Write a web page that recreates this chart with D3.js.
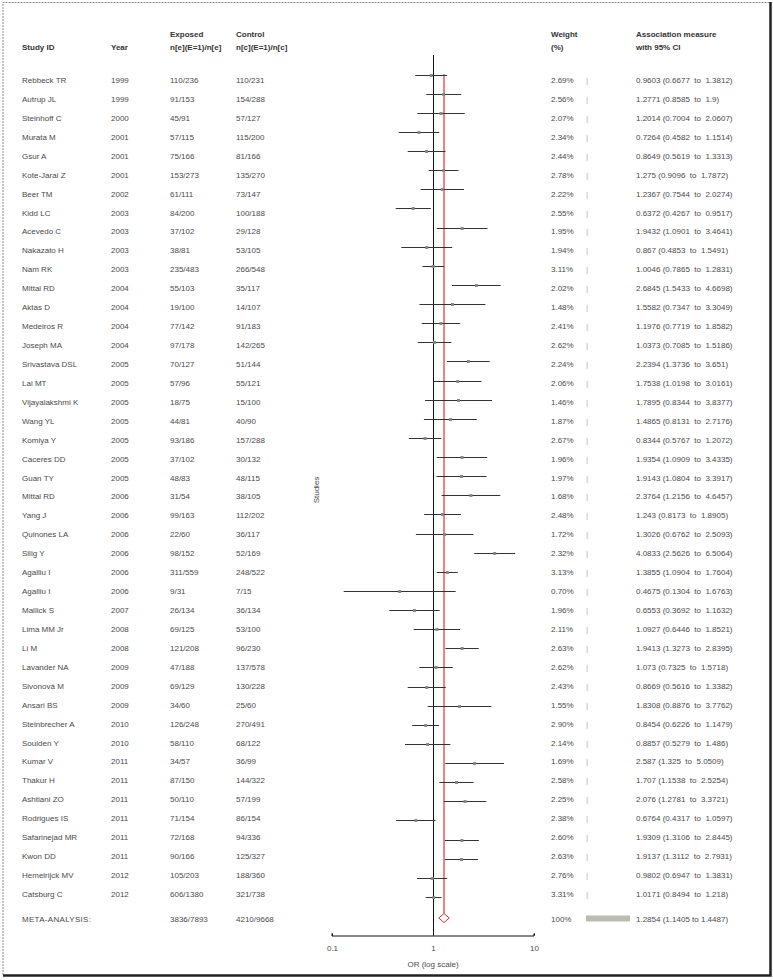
<!DOCTYPE html>
<html><head><meta charset="utf-8">
<script src="https://cdn.jsdelivr.net/npm/d3@7"></script>
<style>
html,body{margin:0;padding:0;background:#fff;}
text{font-family:"Liberation Sans",Arial,sans-serif;}
</style></head>
<body><svg id="c" width="773" height="980"></svg>
<script>
const studies = ["Rebbeck TR","Autrup JL","Steinhoff C","Murata M","Gsur A","Kote-Jarai Z","Beer TM","Kidd LC","Acevedo C","Nakazato H","Nam RK","Mittal RD","Aktas D","Medeiros R","Joseph MA","Srivastava DSL","Lai MT","Vijayalakshmi K","Wang YL","Komiya Y","Caceres DD","Guan TY","Mittal RD","Yang J","Quinones LA","Silig Y","Agalliu I","Agalliu I","Mallick S","Lima MM Jr","Li M","Lavander NA","Sivonová M","Ansari BS","Steinbrecher A","Souiden Y","Kumar V","Thakur H","Ashtiani ZO","Rodrigues IS","Safarinejad MR","Kwon DD","Hemelrijck MV","Catsburg C"];
const years = [1999,1999,2000,2001,2001,2001,2002,2003,2003,2003,2003,2004,2004,2004,2004,2005,2005,2005,2005,2005,2005,2005,2006,2006,2006,2006,2006,2006,2007,2008,2008,2009,2009,2009,2010,2010,2011,2011,2011,2011,2011,2011,2012,2012];
const exposed = ["110/236","91/153","45/91","57/115","75/166","153/273","61/111","84/200","37/102","38/81","235/483","55/103","19/100","77/142","97/178","70/127","57/96","18/75","44/81","93/186","37/102","48/83","31/54","99/163","22/60","98/152","311/559","9/31","26/134","69/125","121/208","47/188","69/129","34/60","126/248","58/110","34/57","87/150","50/110","71/154","72/168","90/166","105/203","606/1380"];
const control = ["110/231","154/288","57/127","115/200","81/166","135/270","73/147","100/188","29/128","53/105","266/548","35/117","14/107","91/183","142/265","51/144","55/121","15/100","40/90","157/288","30/132","48/115","38/105","112/202","36/117","52/169","248/522","7/15","36/134","53/100","96/230","137/578","130/228","25/60","270/491","68/122","36/99","144/322","57/199","86/154","94/336","125/327","188/360","321/738"];
const weights = [2.69,2.56,2.07,2.34,2.44,2.78,2.22,2.55,1.95,1.94,3.11,2.02,1.48,2.41,2.62,2.24,2.06,1.46,1.87,2.67,1.96,1.97,1.68,2.48,1.72,2.32,3.13,0.70,1.96,2.11,2.63,2.62,2.43,1.55,2.90,2.14,1.69,2.58,2.25,2.38,2.60,2.63,2.76,3.31];
const ors = [0.9603,1.2771,1.2014,0.7264,0.8649,1.275,1.2367,0.6372,1.9432,0.867,1.0046,2.6845,1.5582,1.1976,1.0373,2.2394,1.7538,1.7895,1.4865,0.8344,1.9354,1.9143,2.3764,1.243,1.3026,4.0833,1.3855,0.4675,0.6553,1.0927,1.9413,1.073,0.8669,1.8308,0.8454,0.8857,2.587,1.707,2.076,0.6764,1.9309,1.9137,0.9802,1.0171];
const lowers = [0.6677,0.8585,0.7004,0.4582,0.5619,0.9096,0.7544,0.4267,1.0901,0.4853,0.7865,1.5433,0.7347,0.7719,0.7085,1.3736,1.0198,0.8344,0.8131,0.5767,1.0909,1.0804,1.2156,0.8173,0.6762,2.5626,1.0904,0.1304,0.3692,0.6446,1.3273,0.7325,0.5616,0.8876,0.6226,0.5279,1.325,1.1538,1.2781,0.4317,1.3106,1.3112,0.6947,0.8494];
const uppers = [1.3812,1.9,2.0607,1.1514,1.3313,1.7872,2.0274,0.9517,3.4641,1.5491,1.2831,4.6698,3.3049,1.8582,1.5186,3.651,3.0161,3.8377,2.7176,1.2072,3.4335,3.3917,4.6457,1.8905,2.5093,6.5064,1.7604,1.6763,1.1632,1.8521,2.8395,1.5718,1.3382,3.7762,1.1479,1.486,5.0509,2.5254,3.3721,1.0597,2.8445,2.7931,1.3831,1.218];
const meta = {label:"META-ANALYSIS:", exposed:"3836/7893", control:"4210/9668", weight:"100%", or:1.2854, lo:1.1405, hi:1.4487};
const axisTicks = [0.1, 1, 10];

const svg = d3.select("#c");
const n = studies.length;
const x = d3.scaleLog().domain([0.1, 10]).range([332, 534]);
const yText = d3.scaleLinear().domain([0, n - 1]).range([80, 894]);
const yPlot = d3.scaleLinear().domain([0, n - 1]).range([74.5, 897]);
const metaY = 918;
const axisY = 935.5;
const txt = "#4a4a4a";

// border
svg.append("path").attr("d","M3,975 L3,2.5 L770,2.5").attr("fill","none")
  .attr("stroke","#888").attr("stroke-width",1).attr("stroke-dasharray","2,1");
svg.append("path").attr("d","M3,975.5 L770.5,975.5 L770.5,2").attr("fill","none")
  .attr("stroke","#222").attr("stroke-width",2.5);

// headers
const hdr = svg.append("g").attr("font-size",8).attr("font-weight","bold").attr("fill","#333");
hdr.append("text").attr("x",22).attr("y",50).text("Study ID");
hdr.append("text").attr("x",111).attr("y",50).text("Year");
hdr.append("text").attr("x",170).attr("y",37).text("Exposed");
hdr.append("text").attr("x",170).attr("y",50).text("n[e](E=1)/n[e]");
hdr.append("text").attr("x",236).attr("y",37).text("Control");
hdr.append("text").attr("x",236).attr("y",50).text("n[c](E=1)/n[c]");
hdr.append("text").attr("x",551).attr("y",37).text("Weight");
hdr.append("text").attr("x",551).attr("y",50).text("(%)");
hdr.append("text").attr("x",636).attr("y",37).text("Association measure");
hdr.append("text").attr("x",636).attr("y",50).text("with 95% CI");

// rows text
const rows = svg.append("g").attr("font-size",8).attr("fill",txt);
const idx = d3.range(n);
const cols = [
  {x:22, f:i=>studies[i]},
  {x:111, f:i=>years[i]},
  {x:170, f:i=>exposed[i]},
  {x:236, f:i=>control[i]},
  {x:551, f:i=>weights[i].toFixed(2)+"%"},
  {x:636, f:i=>`${ors[i]} (${lowers[i]}  to  ${uppers[i]})`}
];
cols.forEach(c=>{
  rows.selectAll(null).data(idx).join("text")
    .attr("x",c.x).attr("y",i=>yText(i)+3).style("white-space","pre").text(c.f);
});
rows.selectAll(null).data(idx).join("text")
  .attr("x",586).attr("y",i=>yText(i)+3).attr("fill","#aaa").text("|");

// meta text
rows.append("text").attr("x",22).attr("y",metaY+4).text(meta.label).attr("letter-spacing",0.3);
rows.append("text").attr("x",170).attr("y",metaY+4).text(meta.exposed);
rows.append("text").attr("x",236).attr("y",metaY+4).text(meta.control);
rows.append("text").attr("x",551).attr("y",metaY+4).text(meta.weight);
rows.append("text").attr("x",636).attr("y",metaY+4).text(`${meta.or} (${meta.lo} to ${meta.hi})`);
svg.append("rect").attr("x",586).attr("y",metaY-2.5).attr("width",44).attr("height",6).attr("fill","#bbbdb0");

// reference line at 1
svg.append("line").attr("x1",x(1)+0.5).attr("x2",x(1)+0.5).attr("y1",55).attr("y2",axisY)
  .attr("stroke","#111").attr("stroke-width",1);
// pooled line
svg.append("line").attr("x1",x(meta.or)).attr("x2",x(meta.or)).attr("y1",74).attr("y2",metaY-4.5)
  .attr("stroke","#e03030").attr("stroke-width",1.2);

// CI lines
const plot = svg.append("g");
plot.selectAll("line.ci").data(idx).join("line").attr("class","ci")
  .attr("x1",i=>x(lowers[i])).attr("x2",i=>x(uppers[i]))
  .attr("y1",i=>Math.round(yPlot(i))+0.5).attr("y2",i=>Math.round(yPlot(i))+0.5)
  .attr("stroke","#333").attr("stroke-width",1);
plot.selectAll("rect.pt").data(idx).join("rect").attr("class","pt")
  .attr("x",i=>x(ors[i])-1.5).attr("y",i=>Math.round(yPlot(i))-1)
  .attr("width",3).attr("height",3).attr("fill","#888");

// diamond
const dx0 = x(meta.lo), dx1 = x(meta.hi), dxm = x(meta.or);
svg.append("path").attr("d",`M${dx0},${metaY} L${dxm},${metaY-4.5} L${dx1},${metaY} L${dxm},${metaY+4.5} Z`)
  .attr("fill","#fff").attr("stroke","#e03030").attr("stroke-width",1);

// axis
const ax = svg.append("g").attr("transform",`translate(0,${axisY})`)
  .call(d3.axisBottom(x).tickValues(axisTicks).tickSize(-2).tickPadding(8).tickFormat(d=>String(d)));
ax.select(".domain").attr("d",`M${x(0.1)},-2V0.5H${x(10)}V-2`).attr("stroke","#111");
ax.selectAll(".tick line").attr("stroke","#111");
ax.selectAll(".tick text").attr("font-family","Liberation Sans, Arial, sans-serif").attr("font-size",8).attr("fill",txt).attr("dy","0.9em");
svg.append("text").attr("x",x(1)).attr("y",967).attr("text-anchor","middle").attr("font-size",8).attr("fill",txt).text("OR (log scale)");

// Studies label
svg.append("text").attr("transform","translate(319,490) rotate(-90)").attr("text-anchor","middle")
  .attr("font-size",8).attr("fill",txt).text("Studies");
</script></body></html>
